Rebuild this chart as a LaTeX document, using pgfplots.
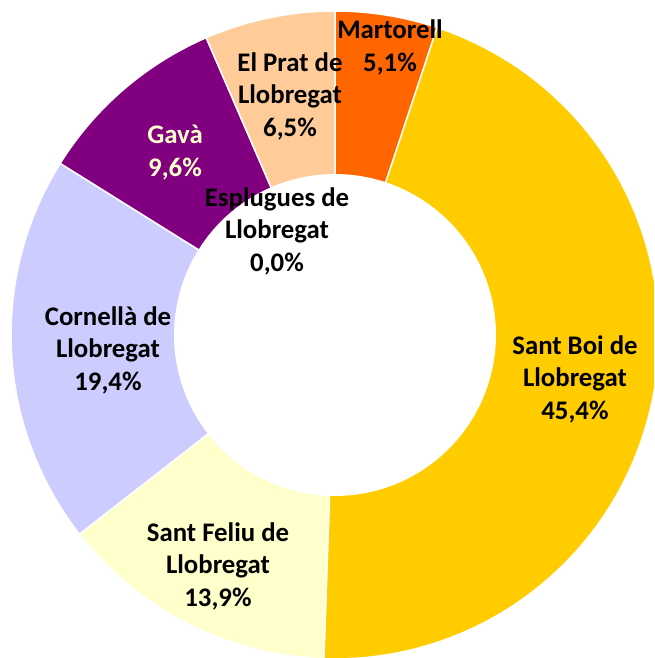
\documentclass[border=0pt]{standalone}
\usepackage{pgfplots}
\pgfplotsset{compat=1.18}
\usepackage{fontspec}
\setmainfont{Carlito}
\definecolor{cMart}{HTML}{FF6600}
\definecolor{cBoi}{HTML}{FFCC00}
\definecolor{cFeliu}{HTML}{FFFFCC}
\definecolor{cCorn}{HTML}{CCCCFF}
\definecolor{cGava}{HTML}{800080}
\definecolor{cPrat}{HTML}{FFCC99}
\tikzset{lbl/.style={align=center, font=\fontsize{26.8}{32.5}\selectfont\bfseries, inner sep=0pt}}
\def\cx{335}\def\cy{323}\def\Ro{324}\def\Ri{161}\def\tot{99.9}
\newcommand{\slice}[3]{%
  \pgfmathsetmacro\aS{90-360/\tot*#1}%
  \pgfmathsetmacro\aE{90-360/\tot*(#1+#2)}%
  \edef\tmp{\noexpand\addplot[fill=#3, draw=white, line width=1.5pt, domain=\aE:\aS, samples=80, variable=\noexpand\t]
    ({\cx+\Ro*cos(\noexpand\t)},{\cy+\Ro*sin(\noexpand\t)}) -- (axis cs:\cx,\cy) -- cycle;}%
  \tmp
}
\begin{document}
\begin{tikzpicture}
\begin{axis}[x=1pt, y=1pt, xmin=0, xmax=654, ymin=0, ymax=658,
  hide axis, clip=true, scale only axis]
% cumulative start, value, colour
\slice{0}{5.1}{cMart}
\slice{5.1}{45.4}{cBoi}
\slice{50.5}{13.9}{cFeliu}
\slice{64.4}{19.4}{cCorn}
\slice{83.8}{9.6}{cGava}
\slice{93.4}{6.5}{cPrat}
\addplot[fill=white, draw=none, domain=0:360, samples=120, variable=\t]
  ({\cx+\Ri*cos(t)},{\cy+\Ri*sin(t)}) -- cycle;
\node[lbl] at (axis cs:390,610.5) {Martorell\\5,1\%};
\node[lbl] at (axis cs:290,562) {El Prat de\\Llobregat\\6,5\%};
\node[lbl, text=cFeliu] at (axis cs:175,505.5) {Gavà\\9,6\%};
\node[lbl] at (axis cs:277,427) {Esplugues de\\Llobregat\\0,0\%};
\node[lbl] at (axis cs:108,308) {Cornellà de\\Llobregat\\19,4\%};
\node[lbl] at (axis cs:575,279) {Sant Boi de\\Llobregat\\45,4\%};
\node[lbl] at (axis cs:218,92) {Sant Feliu de\\Llobregat\\13,9\%};
\end{axis}
\pgfresetboundingbox
\path (current axis.south west) rectangle (current axis.north east);
\end{tikzpicture}
\end{document}
